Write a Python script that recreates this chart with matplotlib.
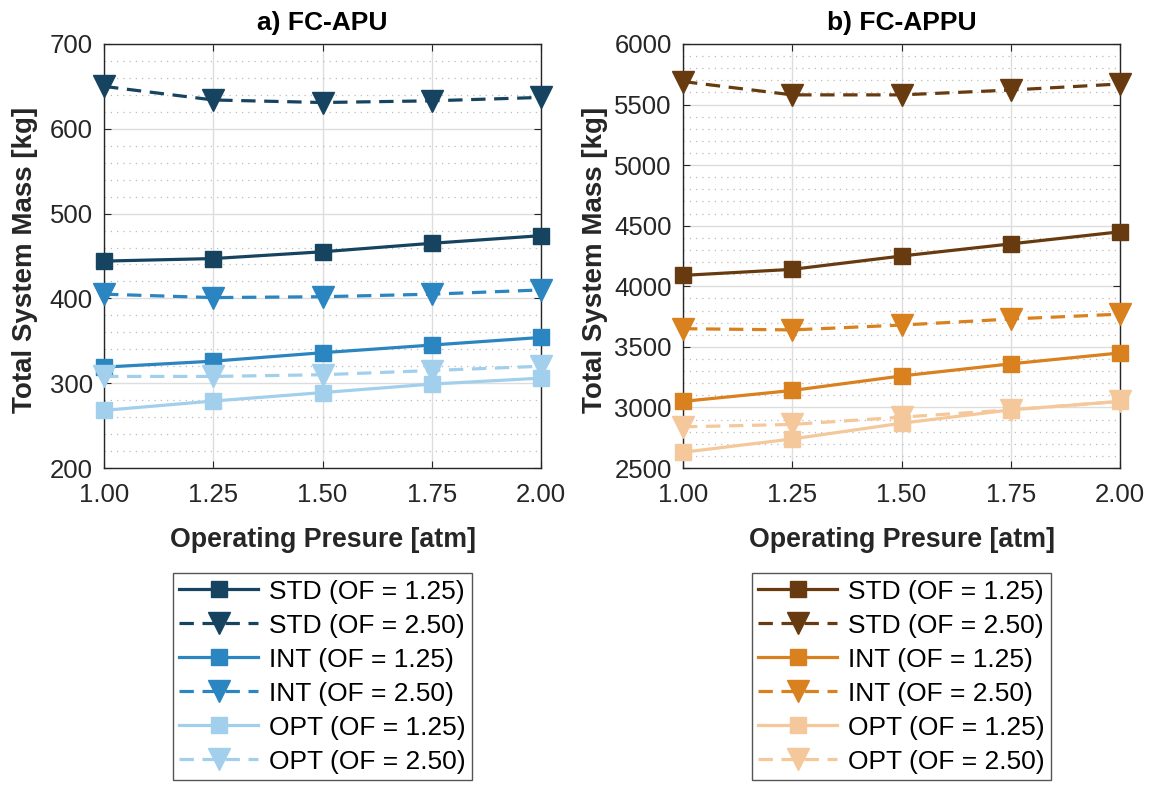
import numpy as np
import matplotlib.pyplot as plt
from matplotlib.ticker import MultipleLocator

plt.rcParams['font.family'] = ['Liberation Sans', 'DejaVu Sans']

# Operating pressure [atm]
pressure = [1.00, 1.25, 1.50, 1.75, 2.00]

# a) FC-APU total system mass [kg]
apu_std_125 = [444, 447, 455, 465, 474]
apu_std_250 = [650, 634, 631, 633, 637]
apu_int_125 = [319, 326, 336, 345, 354]
apu_int_250 = [405, 401, 402, 405, 410]
apu_opt_125 = [268, 279, 289, 299, 306]
apu_opt_250 = [308, 308, 310, 315, 320]

# b) FC-APPU total system mass [kg]
appu_std_125 = [4090, 4140, 4250, 4350, 4450]
appu_std_250 = [5690, 5580, 5580, 5620, 5670]
appu_int_125 = [3050, 3140, 3260, 3360, 3450]
appu_int_250 = [3650, 3640, 3680, 3730, 3770]
appu_opt_125 = [2630, 2740, 2870, 2980, 3050]
appu_opt_250 = [2840, 2860, 2920, 2980, 3050]

labels = ["STD (OF = 1.25)", "STD (OF = 2.50)",
          "INT (OF = 1.25)", "INT (OF = 2.50)",
          "OPT (OF = 1.25)", "OPT (OF = 2.50)"]

blues = ["#16435f", "#2a85c0", "#a2d0ec"]
browns = ["#683a10", "#d9801f", "#f4c89a"]

txt = "#262626"

fig = plt.figure(figsize=(11.51, 7.87), dpi=100)
ax1 = fig.add_axes([0.0904, 0.4053, 0.3797, 0.5388])
ax2 = fig.add_axes([0.5934, 0.4053, 0.3797, 0.5388])


def draw(ax, series, colors, title, ylim, major, minor, ylab_x):
    handles = []
    for i, (s125, s250) in enumerate(series):
        c = colors[i]
        h1, = ax.plot(pressure, s125, color=c, lw=2.3, marker='s', ms=11,
                      clip_on=False, zorder=3)
        h2, = ax.plot(pressure, s250, color=c, lw=2.3, ls=(0, (4.5, 2.7)),
                      marker='v', ms=16, clip_on=False, zorder=3)
        handles += [h1, h2]
    ax.set_xlim(1.0, 2.0)
    ax.set_ylim(*ylim)
    ax.set_xticks(pressure)
    ax.set_xticklabels(["%.2f" % p for p in pressure])
    ax.yaxis.set_major_locator(MultipleLocator(major))
    ax.yaxis.set_minor_locator(MultipleLocator(minor))
    ax.grid(True, which='major', color='#dddddd', lw=1.0)
    ax.grid(True, which='minor', axis='y', color='#bbbbbb', lw=0.9, ls=(0, (1, 4)))
    ax.tick_params(which='both', direction='in', top=True, right=True,
                   labelsize=18.5, colors=txt, length=5)
    ax.tick_params(axis='y', pad=8)
    ax.tick_params(axis='x', pad=11)
    ax.tick_params(which='minor', length=0)
    for sp in ax.spines.values():
        sp.set_color(txt)
        sp.set_linewidth(1.0)
    ax.set_axisbelow(True)
    ax.set_title(title, fontsize=19, fontweight='bold', color='black', pad=10)
    ax.set_xlabel("Operating Presure [atm]", fontsize=19.3, fontweight='bold',
                  color=txt, labelpad=14)
    ax.set_ylabel("Total System Mass [kg]", fontsize=20, fontweight='bold',
                  color=txt)
    ax.yaxis.set_label_coords(ylab_x, 0.49)
    return handles


h_apu = draw(ax1, [(apu_std_125, apu_std_250), (apu_int_125, apu_int_250),
                   (apu_opt_125, apu_opt_250)], blues, "a) FC-APU",
             (200, 700), 100, 20, -0.152)
h_appu = draw(ax2, [(appu_std_125, appu_std_250), (appu_int_125, appu_int_250),
                    (appu_opt_125, appu_opt_250)], browns, "b) FC-APPU",
              (2500, 6000), 500, 100, -0.172)

for handles, x0 in [(h_apu, 0.150), (h_appu, 0.653)]:
    leg = fig.legend(handles, labels, loc='upper left', bbox_to_anchor=(x0, 0.272),
                     fontsize=19, handlelength=3.0, handletextpad=0.4,
                     labelspacing=0.38, borderpad=0.25, borderaxespad=0,
                     fancybox=False, framealpha=1, edgecolor='#555555')
    leg.get_frame().set_linewidth(1.0)

fig.savefig("out.png", dpi=100)
